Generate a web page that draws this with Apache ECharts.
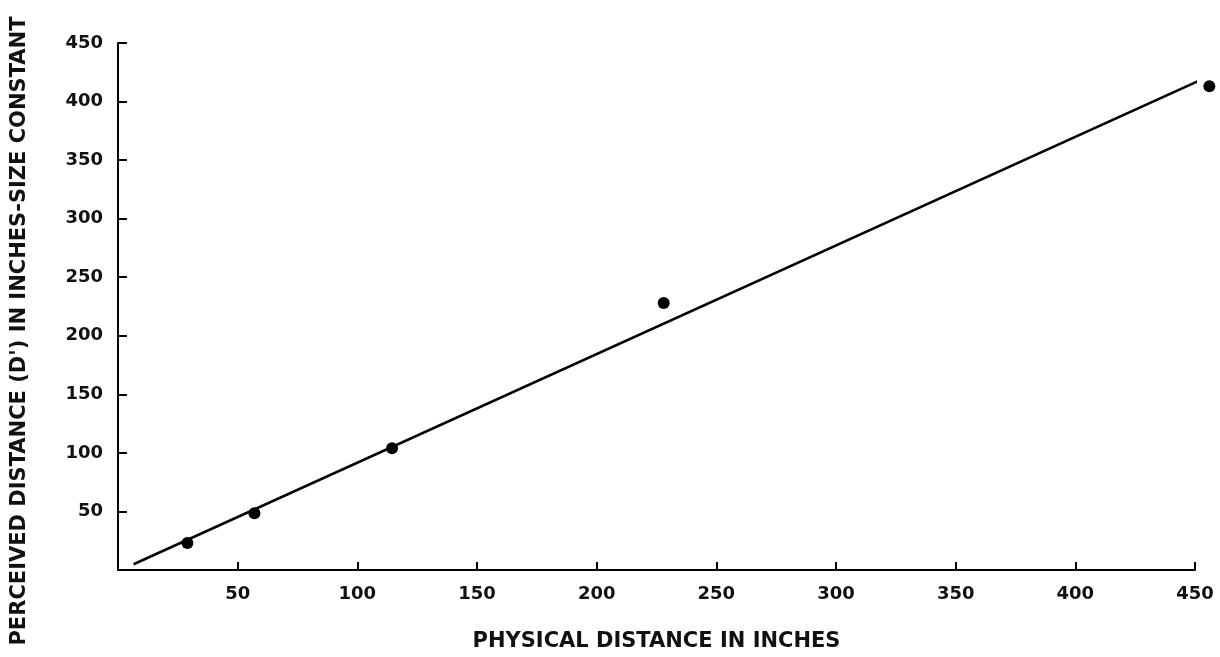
<!DOCTYPE html>
<html>
<head>
<meta charset="utf-8">
<script src="https://cdn.jsdelivr.net/npm/echarts@6/dist/echarts.min.js"></script>
<style>
html,body{margin:0;padding:0;background:#fff;}
#chart{width:1220px;height:657px;}
</style>
</head>
<body>
<div id="chart"></div>
<script>
const xTicks = [50, 100, 150, 200, 250, 300, 350, 400, 450];
const yTicks = [50, 100, 150, 200, 250, 300, 350, 400, 450];
const physicalDistance = [29, 57, 114.5, 228, 456];
const perceivedDistance = [23, 48.5, 104, 228, 413];
const fitLineX = [6.5, 454];
const fitLineY = [4.9, 420];
const xTitle = "PHYSICAL DISTANCE IN INCHES";
const yTitle = "PERCEIVED DISTANCE (D') IN INCHES-SIZE CONSTANT";

const font = "'DejaVu Sans', sans-serif";
const chart = echarts.init(document.getElementById('chart'));
chart.setOption({
  animation: false,
  backgroundColor: '#fff',
  grid: {left: 118, right: 25, top: 43, bottom: 87},
  graphic: [{
    type: 'text',
    x: 20, y: 331,
    rotation: Math.PI / 2,
    style: {
      text: yTitle,
      font: "bold 21px 'DejaVu Sans', sans-serif",
      fill: '#111',
      align: 'center',
      verticalAlign: 'middle'
    }
  }],
  xAxis: {
    type: 'value', min: 0, max: 450, interval: 50,
    name: xTitle, nameLocation: 'middle', nameGap: 61,
    nameTextStyle: {fontFamily: font, fontSize: 21, fontWeight: 'bold', color: '#111'},
    axisLine: {show: true, lineStyle: {color: '#000', width: 2}},
    axisTick: {show: true, inside: true, length: 8, lineStyle: {color: '#000', width: 2}},
    axisLabel: {
      fontFamily: font, fontSize: 18, fontWeight: 'bold', color: '#111', margin: 15,
      formatter: v => xTicks.includes(v) ? String(v) : ''
    },
    splitLine: {show: false}
  },
  yAxis: {
    type: 'value', min: 0, max: 450, interval: 50,
    axisLine: {show: true, lineStyle: {color: '#000', width: 2}},
    axisTick: {show: true, inside: true, length: 9, lineStyle: {color: '#000', width: 2}},
    axisLabel: {
      fontFamily: font, fontSize: 18, fontWeight: 'bold', color: '#111', margin: 15,
      formatter: v => yTicks.includes(v) ? String(v) : ''
    },
    splitLine: {show: false}
  },
  series: [
    {
      type: 'line',
      data: fitLineX.map((x, i) => [x, fitLineY[i]]),
      showSymbol: false, symbol: 'none', clip: false,
      lineStyle: {color: '#000', width: 2.5}
    },
    {
      type: 'scatter',
      data: physicalDistance.map((x, i) => [x, perceivedDistance[i]]),
      symbol: 'circle', symbolSize: 12, clip: false,
      itemStyle: {color: '#000', opacity: 1}
    }
  ]
});
</script>
</body>
</html>
